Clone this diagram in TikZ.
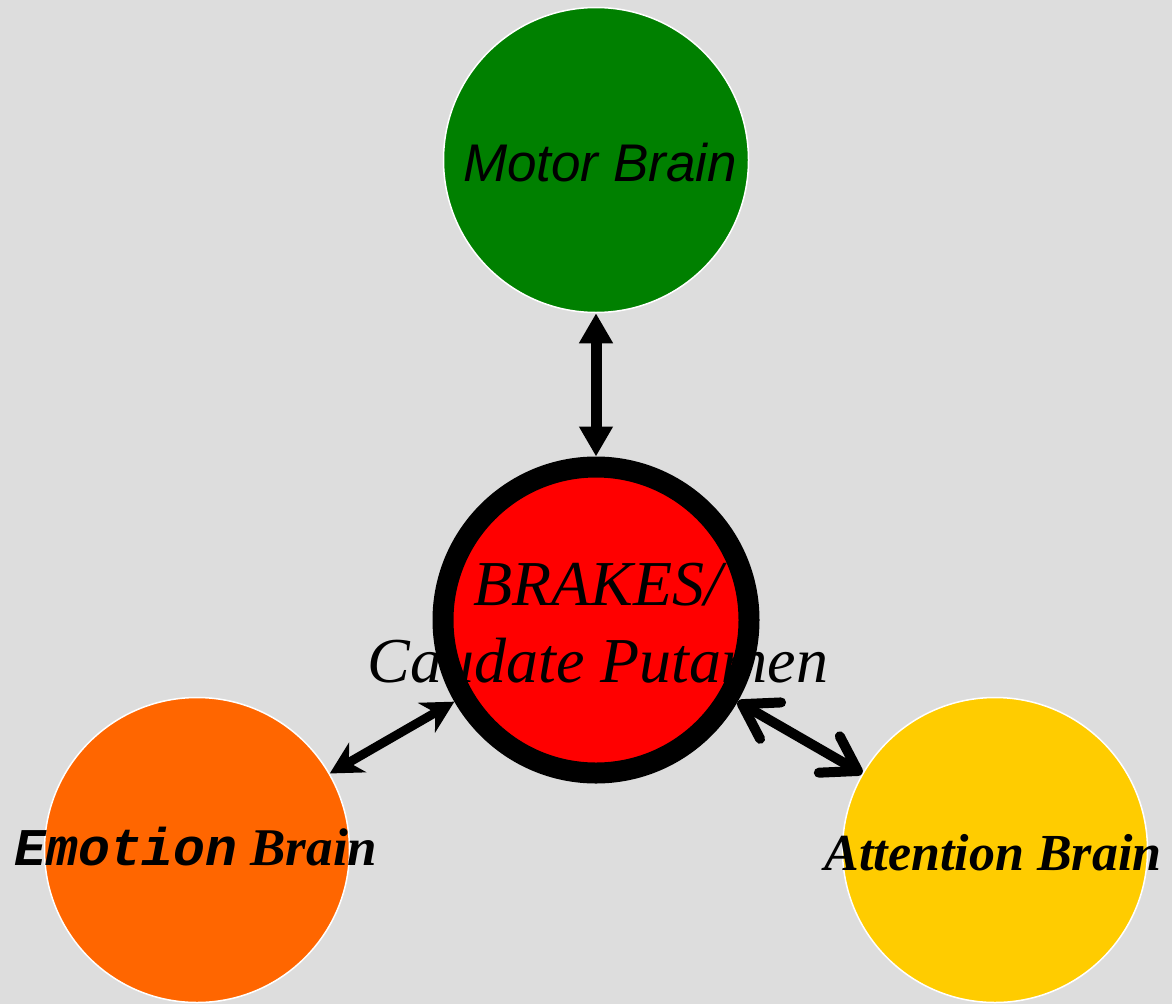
\documentclass[tikz,border=0pt]{standalone}
\usepackage{fontspec}
\setmainfont{Liberation Serif}
\newfontfamily\sansfam{Liberation Sans}
\newfontfamily\monofam{Liberation Mono}
\usetikzlibrary{arrows.meta}

\definecolor{bggray}{HTML}{DDDDDD}
\definecolor{motorgreen}{HTML}{008000}
\definecolor{brakered}{HTML}{FF0000}
\definecolor{emoorange}{HTML}{FF6600}
\definecolor{attyellow}{HTML}{FFCC00}

\begin{document}
\begin{tikzpicture}[x=1pt, y=-1pt,
    brain/.style={circle, draw=white, line width=1.5pt, minimum size=305pt, inner sep=0pt},
    lbl/.style={anchor=base, inner sep=0pt},
    linkm/.style={line width=11pt, {Triangle[width=32pt,length=30pt]}-{Triangle[width=32pt,length=30pt]}},
    linke/.style={line width=9pt, {Stealth[width=34pt,length=32pt,inset=10pt]}-{Stealth[width=34pt,length=32pt,inset=10pt]}},
    linka/.style={line width=10pt, line cap=round, {Straight Barb[width=42pt,length=33pt,round]}-{Straight Barb[width=42pt,length=33pt,round]}}]
    % background
    \fill[bggray] (0,0) rectangle (1172,1004);
    \useasboundingbox (0,0) rectangle (1172,1004);

    % brains
    \node[brain, fill=motorgreen] (motor) at (596,160) {};
    \node[brain, fill=emoorange] (emotion) at (197,850) {};
    \node[brain, fill=attyellow] (attention) at (995,850) {};
    \node[brain, fill=brakered, draw=none] (brakes) at (596,620) {};

    % labels
    \node[lbl, font=\sansfam\itshape\fontsize{53}{60}\selectfont] (motorlbl) at (600,181) {Motor Brain};
    \node[lbl, font=\bfseries\itshape\fontsize{53}{60}\selectfont] (emotionlbl) at (196,865) {{\monofam Emotion} Brain};
    \node[lbl, font=\bfseries\itshape\fontsize{52}{60}\selectfont] (attentionlbl) at (993,870) {Attention Brain};
    \node[inner sep=0pt, align=center, font=\itshape\fontsize{64}{77}\selectfont] (brakeslbl) at (598,623) {BRAKES/\\Caudate Putamen};

    % thick rim over the text
    \node[circle, draw=black, line width=21pt, minimum size=306pt, inner sep=0pt] (brakesrim) at (brakes) {};

    % links
    \draw[linkm] (motor) -- (brakesrim);
    \draw[linke] (brakesrim) -- (emotion);
    \draw[linka] (brakesrim) -- (attention);
\end{tikzpicture}
\end{document}
